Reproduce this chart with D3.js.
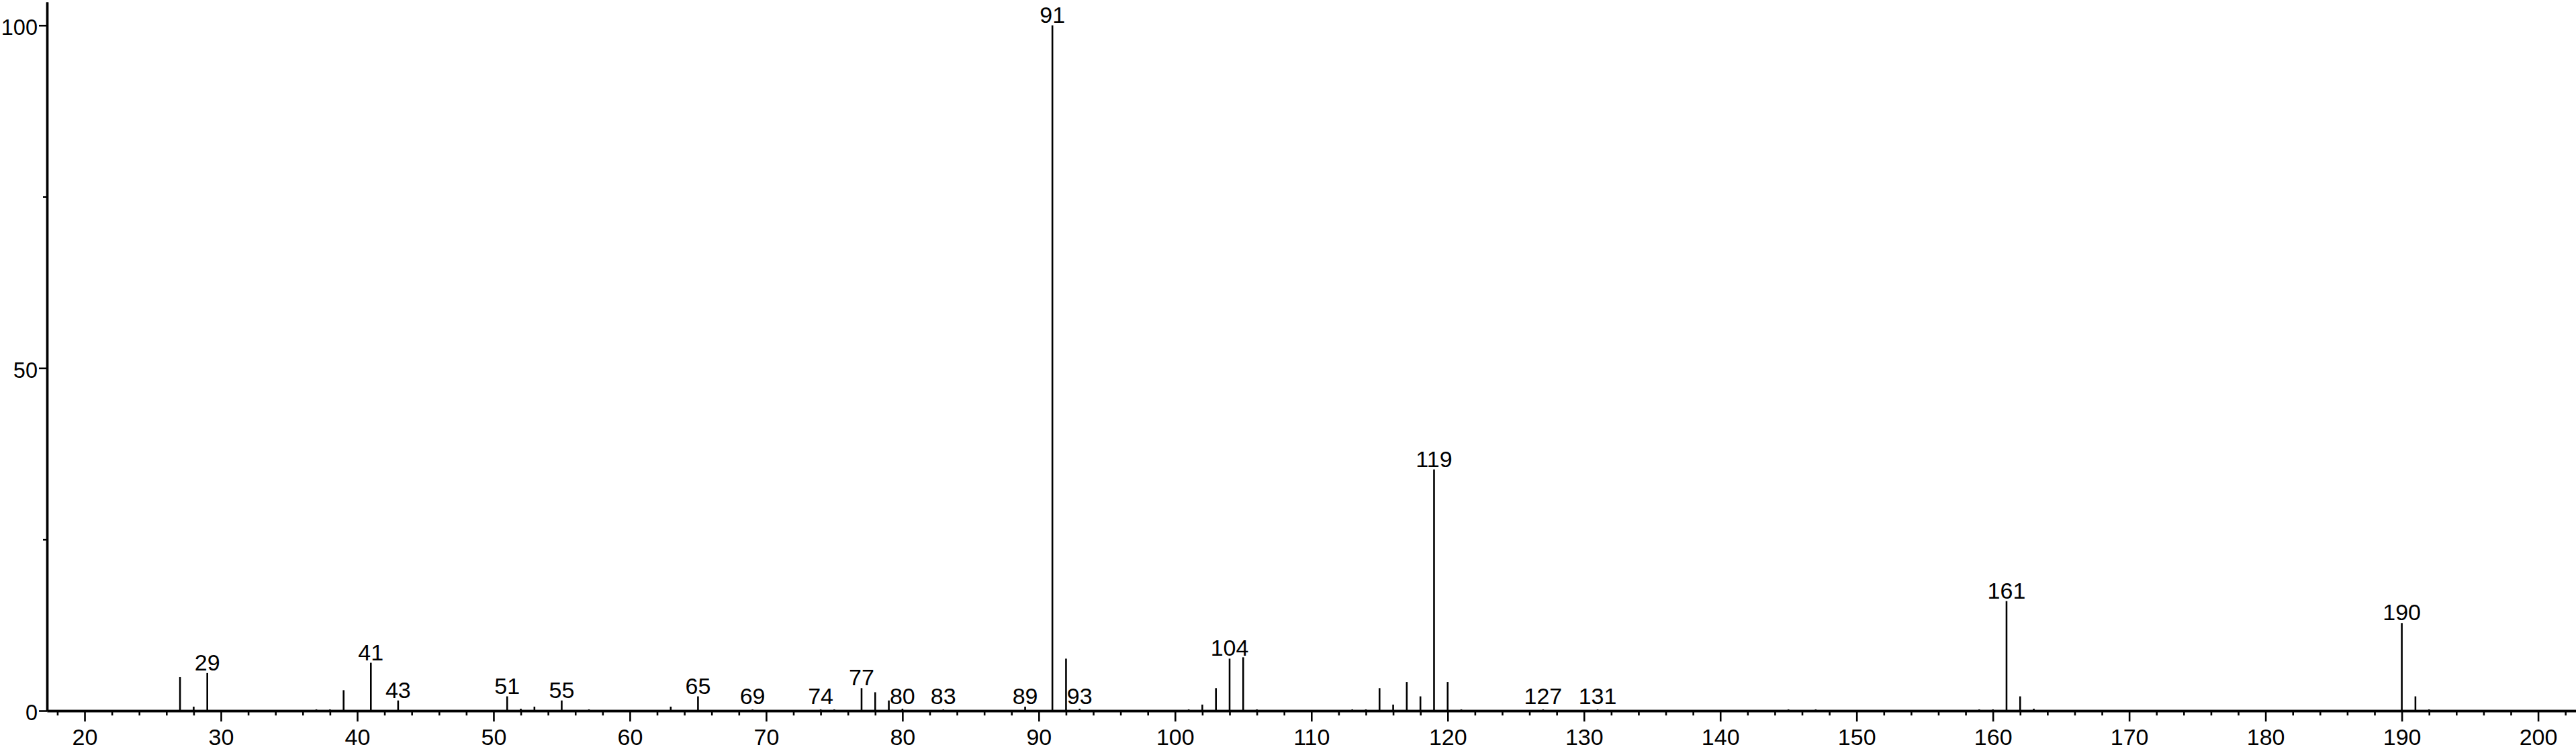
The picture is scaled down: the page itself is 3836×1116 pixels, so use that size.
<!DOCTYPE html>
<html>
<head>
<meta charset="utf-8">
<script src="https://cdn.jsdelivr.net/npm/d3@7"></script>
<style>
  body { margin: 0; background: #fff; }
  svg { display: block; }
  text { font-family: 'Liberation Sans', Arial, sans-serif; fill: #000; }
</style>
</head>
<body>
<div id="chart"></div>
<script>
// m/z and relative abundance
let mz = [27, 28, 29, 37, 38, 39, 41, 43, 51, 52, 53, 55, 57, 63, 65, 69, 74, 75, 77, 78, 79, 80, 83, 89, 91, 92, 93, 101, 102, 103, 104, 105, 106, 113, 114, 115, 116, 117, 118, 119, 120, 121, 127, 131, 145, 147, 159, 160, 161, 162, 163, 190, 191, 192]
let abundance = [4.9, 0.6, 5.5, 0.2, 0.2, 3.0, 7.0, 1.5, 2.1, 0.3, 0.6, 1.5, 0.2, 0.6, 2.1, 0.2, 0.2, 0.2, 3.3, 2.7, 1.5, 0.3, 0.2, 0.6, 100, 7.6, 0.3, 0.2, 0.9, 3.3, 7.6, 7.8, 0.2, 0.2, 0.2, 3.3, 0.9, 4.2, 2.1, 35.2, 4.2, 0.2, 0.2, 0.2, 0.2, 0.2, 0.2, 0.2, 16.0, 2.1, 0.3, 12.8, 2.1, 0.2]
let labelled = [29, 41, 43, 51, 55, 65, 69, 74, 77, 80, 83, 89, 91, 93, 104, 119, 127, 131, 161, 190]

let xMajor = d3.range(20, 201, 10)
let xMinor = d3.range(18, 203, 2).filter(d => d % 10 !== 0)
let yMajor = [0, 50, 100]
let yMinor = [25, 75]

let width = 3836
let height = 1116
let baseY = 1059

let peaks = mz.map((m, i) => ({ mz: m, value: abundance[i] }))

let svg = d3
  .select('#chart')
  .append('svg')
  .attr('width', width)
  .attr('height', height)

let xPositionScale = d3.scaleLinear().domain([17.24, 202.78]).range([70, width])
let yPositionScale = d3.scaleLinear().domain([0, 103.4]).range([baseY, 3])

// peaks
svg
  .selectAll('.peak')
  .data(peaks)
  .enter()
  .append('line')
  .attr('class', 'peak')
  .attr('x1', d => xPositionScale(d.mz))
  .attr('x2', d => xPositionScale(d.mz))
  .attr('y1', baseY)
  .attr('y2', d => yPositionScale(d.value))
  .attr('stroke', '#000')
  .attr('stroke-width', 2.6)

// peak labels
svg
  .selectAll('.peak-label')
  .data(peaks.filter(d => labelled.includes(d.mz)))
  .enter()
  .append('text')
  .attr('class', 'peak-label')
  .attr('x', d => xPositionScale(d.mz))
  .attr('y', d => Math.min(yPositionScale(d.value) - 4, baseY - 10.5))
  .attr('text-anchor', 'middle')
  .attr('font-size', 34)
  .text(d => d.mz)

// x axis
let xAxis = d3
  .axisBottom(xPositionScale)
  .tickValues(xMajor)
  .tickSize(16)
  .tickSizeOuter(0)
  .tickPadding(11)
  .tickFormat(d3.format('d'))

let xAxisMinor = d3
  .axisBottom(xPositionScale)
  .tickValues(xMinor)
  .tickSize(7)
  .tickSizeOuter(0)
  .tickFormat('')

svg
  .append('g')
  .attr('class', 'axis x-axis-minor')
  .attr('transform', 'translate(0,' + baseY + ')')
  .call(xAxisMinor)

svg
  .append('g')
  .attr('class', 'axis x-axis')
  .attr('transform', 'translate(0,' + baseY + ')')
  .call(xAxis)

// y axis
let yAxis = d3
  .axisLeft(yPositionScale)
  .tickValues(yMajor)
  .tickSize(12)
  .tickSizeOuter(0)
  .tickPadding(2)

let yAxisMinor = d3
  .axisLeft(yPositionScale)
  .tickValues(yMinor)
  .tickSize(6)
  .tickSizeOuter(0)
  .tickFormat('')

svg
  .append('g')
  .attr('class', 'axis y-axis-minor')
  .attr('transform', 'translate(70,0)')
  .call(yAxisMinor)

svg
  .append('g')
  .attr('class', 'axis y-axis')
  .attr('transform', 'translate(70,0)')
  .call(yAxis)

svg.selectAll('.axis .domain').attr('stroke', '#000').attr('stroke-width', 3.4)
svg.selectAll('.axis .tick line').attr('stroke', '#000').attr('stroke-width', 2.6)
svg
  .selectAll('.axis text')
  .attr('font-size', 34)
  .attr('font-family', "'Liberation Sans', Arial, sans-serif")
  .attr('fill', '#000')
svg.selectAll('.y-axis text').attr('font-size', 32.5).attr('dy', '0.42em')
</script>
</body>
</html>
